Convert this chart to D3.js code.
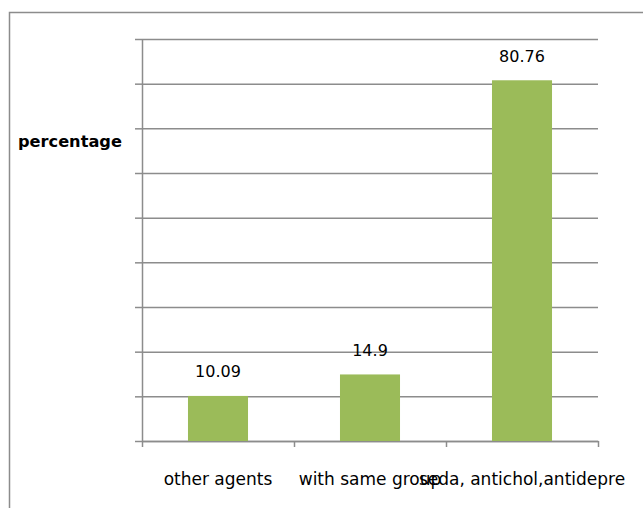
<!DOCTYPE html>
<html>
<head>
<meta charset="utf-8">
<script src="https://cdn.jsdelivr.net/npm/d3@7"></script>
<style>
  body { margin: 0; background: #fff; }
  svg { display: block; }
  .grid line { stroke: #8c8c8c; stroke-width: 1.5px; }
  .grid .domain { display: none; }
  .axis .domain, .axis line { stroke: #8c8c8c; stroke-width: 1.5px; }
  text { font-family: "DejaVu Sans", sans-serif; fill: #000; }
</style>
</head>
<body>
<svg id="chart" width="643" height="508"></svg>
<script>
var categories = ['other agents', 'with same group', 'seda, antichol,antidepre'];
var values = [10.09, 14.9, 80.76];
var valueLabels = ['10.09', '14.9', '80.76'];
var yTicks = [0, 10, 20, 30, 40, 50, 60, 70, 80, 90];

var svg = d3.select('#chart');
var plotLeft = 142, plotRight = 598, plotTop = 39, plotBottom = 441;
var plotWidth = plotRight - plotLeft;

// chart area border (runs off the right and bottom of the picture)
svg.append('rect')
    .attr('x', 9.5).attr('y', 12.5)
    .attr('width', 700).attr('height', 600)
    .attr('fill', 'none')
    .attr('stroke', '#8c8c8c')
    .attr('stroke-width', 1.5);

var x = d3.scaleBand()
    .domain(categories)
    .range([plotLeft, plotRight])
    .paddingInner(0.605)
    .paddingOuter(0.3025);

var y = d3.scaleLinear()
    .domain([0, 90])
    .range([plotBottom, plotTop]);

svg.append('g')
    .classed('grid', true)
    .attr('transform', 'translate(' + plotLeft + ',0)')
    .call(d3.axisRight(y).tickValues(yTicks).tickSize(plotWidth).tickFormat(''));

svg.append('g')
    .classed('axis', true)
    .attr('transform', 'translate(' + plotLeft + ',0)')
    .call(d3.axisLeft(y).tickValues(yTicks).tickSizeInner(7).tickSizeOuter(0).tickFormat(''));

// category boundary ticks
var xEdge = d3.scaleLinear().domain([0, categories.length]).range([plotLeft, plotRight]);
svg.append('g')
    .classed('axis', true)
    .attr('transform', 'translate(0,' + plotBottom + ')')
    .call(d3.axisBottom(xEdge).tickValues(d3.range(categories.length + 1)).tickSizeInner(6).tickSizeOuter(0).tickFormat(''));

var labels = svg.append('g')
    .attr('transform', 'translate(0,' + plotBottom + ')')
    .call(d3.axisBottom(x).tickSize(0));
labels.select('.domain').remove();
labels.selectAll('text')
    .attr('y', 44)
    .attr('dy', 0)
    .style('font-family', '"DejaVu Sans", sans-serif')
    .style('font-size', '17px');

svg.append('g')
    .selectAll('rect')
    .data(values)
    .join('rect')
    .attr('x', function (d, i) { return x(categories[i]); })
    .attr('y', function (d) { return y(d); })
    .attr('width', x.bandwidth())
    .attr('height', function (d) { return plotBottom - y(d); })
    .attr('fill', '#9bbb59');

svg.append('g')
    .selectAll('text')
    .data(values)
    .join('text')
    .attr('x', function (d, i) { return x(categories[i]) + x.bandwidth() / 2; })
    .attr('y', function (d) { return y(d) - 18.5; })
    .attr('text-anchor', 'middle')
    .style('font-size', '16px')
    .text(function (d, i) { return valueLabels[i]; });

svg.append('text')
    .attr('x', 18)
    .attr('y', 147)
    .style('font-size', '16.2px')
    .style('font-weight', 'bold')
    .text('percentage');
</script>
</body>
</html>
